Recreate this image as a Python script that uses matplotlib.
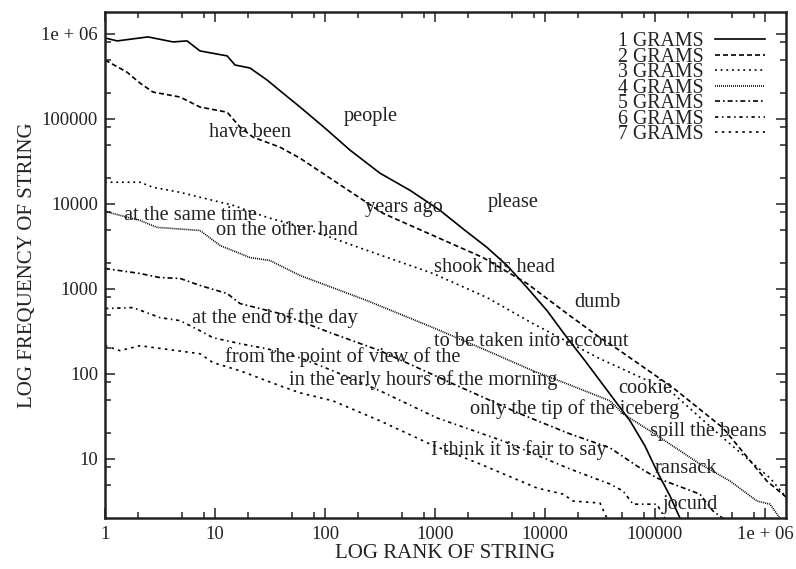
import numpy as np
import matplotlib
matplotlib.use("Agg")
import matplotlib.pyplot as plt
from matplotlib.ticker import LogLocator, FuncFormatter, NullFormatter

# rank / frequency curves, one per n-gram order
rank_1 = [1, 1.29, 2.46, 4.15, 5.57, 7.3, 12.9, 15.2, 20.8, 29.7, 41.5, 59.3, 100, 169, 316,
          593, 1110, 1875, 2970, 4515, 6860, 10430, 15850, 23100, 31600, 43300, 59300,
          81100, 104000, 137000, 169000]
freq_1 = [8.97e5, 8.27e5, 9.22e5, 8.05e5, 8.27e5, 6.31e5, 5.51e5, 4.31e5, 3.97e5, 2.87e5,
          2.01e5, 1.38e5, 7.8e4, 4.29e4, 2.3e4, 14450, 8410, 4880, 3080, 1888, 1040, 556,
          267, 143, 83.2, 48.3, 28.1, 14.2, 7.21, 3.66, 2.0]

rank_2 = [1, 1.58, 2.08, 2.73, 4.81, 7.3, 12.9, 16.9, 22.2, 39, 59.3, 337, 2730, 6860,
          15850, 31600, 45200, 146000, 415000, 1.04e6, 1.58e6]
freq_2 = [4.93e5, 3.56e5, 2.64e5, 2.07e5, 1.81e5, 1.38e5, 1.2e5, 8.0e4, 6.1e4, 4.65e4,
          3.45e4, 7750, 2340, 1160, 513, 267, 198, 68.7, 23.2, 5.5, 3.5]

rank_3 = [1, 2.08, 2.73, 4.81, 14.6, 29.7, 59.3, 241, 959, 2970, 7780, 31600, 137000,
          415000, 1.11e6, 1.58e6]
freq_3 = [1.8e4, 1.8e4, 1.57e4, 1.37e4, 9620, 6950, 5440, 2840, 1520, 792, 391, 151, 63.4,
          17.7, 5.97, 3.47]

rank_4 = [1, 1.37, 2.08, 2.97, 7.3, 11.1, 20.8, 31.6, 59.3, 241, 959, 2970, 7780, 15850,
          39000, 51200, 90100, 256000, 481000, 846000, 1.11e6, 1.37e6]
freq_4 = [8180, 7340, 6410, 5300, 4880, 3250, 2340, 2160, 1440, 730, 351, 188, 109, 76.6,
          48.3, 34, 21.4, 8.73, 5.5, 3.2, 2.94, 2.0]

rank_5 = [1, 2.08, 3.16, 4.81, 7.3, 12.9, 16.9, 39, 118, 316, 1458, 5930, 16900, 39000,
          73100, 104000, 146000, 256000, 337000, 415000]
freq_5 = [1740, 1520, 1360, 1330, 1100, 883, 673, 513, 298, 188, 76.6, 34, 19.7, 13.5,
          7.83, 5.97, 5.07, 3.86, 2.44, 2.0]

rank_6 = [1, 1.8, 3.16, 4.81, 7.3, 9.59, 16.9, 29.7, 59.3, 118, 316, 1043, 4150, 16900,
          39000, 51200, 63100, 104000, 123000]
freq_6 = [588, 604, 460, 424, 323, 267, 227, 198, 155, 109, 63.4, 30.4, 16.3, 7.62, 5.07,
          4.2, 2.94, 2.94, 2.0]

rank_7 = [1, 1.37, 2.08, 7.3, 9.59, 16.9, 39, 59.3, 118, 316, 901, 2565, 8460, 14600,
          18000, 31600, 36600]
freq_7 = [215, 188, 215, 173, 136, 109, 72.6, 60, 48.3, 28.1, 15, 8.73, 4.55, 3.86, 3.2,
          3.03, 2.0]

series_names = ["1 GRAMS", "2 GRAMS", "3 GRAMS", "4 GRAMS", "5 GRAMS", "6 GRAMS", "7 GRAMS"]

# example strings written over the curves (text, rank, frequency)
phrases = ["people", "have been", "years ago", "please", "at the same time",
           "on the other hand", "shook his head", "dumb", "at the end of the day",
           "to be taken into account", "from the point of view of the",
           "in the early hours of the morning", "cookie", "only the tip of the iceberg",
           "spill the beans", "I think it is fair to say", "ransack", "jocund"]
phrase_rank = [262, 20.8, 523, 5120, 5.93, 45.2, 3440, 29700, 35.1, 7460, 146, 778,
               81100, 18700, 303000, 5800, 191000, 208000]
phrase_freq = [1.06e5, 7.0e4, 8970, 10270, 7220, 4810, 1770, 684, 456, 238, 158, 85,
               68, 38.7, 20.8, 12.8, 7.83, 2.88]

major_vals = [1, 10, 100, 1000, 10000, 100000, 1000000]
major_text = ["1", "10", "100", "1000", "10000", "100000", "1e + 06"]


def tick_label(v, pos):
    for m, t in zip(major_vals, major_text):
        if abs(v - m) < 1e-6 * m:
            return t
    return ""


plt.rcParams['font.family'] = ['Liberation Serif', 'DejaVu Serif']
tick_fs = 13.5
text_fs = 14.7
label_fs = 15
legend_fs = 14.3
lw = 1.2
ink = "#222222"

fig = plt.figure(figsize=(7.96, 5.69), dpi=100)
ax = fig.add_axes([0.1319, 0.0902, 0.8555, 0.8887])

styles = [
    "-",
    (0, (3.0, 1.8)),
    (0, (1.1, 2.3)),
    (0, (0.6, 0.6)),
    (0, (3.0, 1.8, 1.0, 1.8)),
    (0, (2.0, 2.2, 0.9, 2.2)),
    (0, (1.5, 2.6)),
]
curves = [(rank_1, freq_1), (rank_2, freq_2), (rank_3, freq_3), (rank_4, freq_4),
          (rank_5, freq_5), (rank_6, freq_6), (rank_7, freq_7)]

for (r, f), name, ls in zip(curves, series_names, styles):
    ax.plot(r, f, color="k", lw=lw, linestyle=ls, label=name)

for txt, r, f in zip(phrases, phrase_rank, phrase_freq):
    ax.text(r, f, txt, ha="center", va="center", fontsize=text_fs, color=ink)

ax.set_xscale("log")
ax.set_yscale("log")
ax.set_xlim(1, 1.55e6)
ax.set_ylim(2.04, 1.81e6)

for axis in (ax.xaxis, ax.yaxis):
    axis.set_major_locator(LogLocator(base=10, numticks=10))
    axis.set_minor_locator(LogLocator(base=10, subs=(2, 5, 8), numticks=30))
    axis.set_major_formatter(FuncFormatter(tick_label))
    axis.set_minor_formatter(NullFormatter())

ax.tick_params(which="both", direction="in", top=True, right=True, width=1.1,
               labelsize=tick_fs, colors=ink)
ax.tick_params(which="major", length=7)
ax.tick_params(which="minor", length=4)
ax.tick_params(axis="x", pad=6)
ax.tick_params(axis="y", pad=5)
for sp in ax.spines.values():
    sp.set_linewidth(1.8)
    sp.set_color(ink)

ax.set_xlabel("LOG RANK OF STRING", fontsize=label_fs, color=ink, labelpad=1)
ax.set_ylabel("LOG FREQUENCY OF STRING", fontsize=label_fs, color=ink, labelpad=3)

leg = ax.legend(loc="upper right", bbox_to_anchor=(0.969, 0.960), frameon=False,
                markerfirst=False, fontsize=legend_fs, handlelength=2.5, handletextpad=0.6,
                labelspacing=-0.175, borderpad=0, borderaxespad=0)
for t in leg.get_texts():
    t.set_color(ink)

fig.savefig("out.png", dpi=100)
